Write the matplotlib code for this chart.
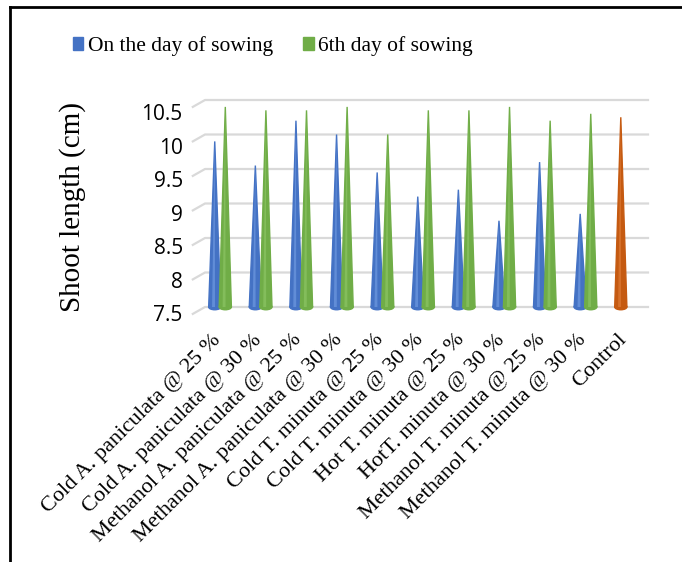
import matplotlib.pyplot as plt
import matplotlib.transforms as mtransforms
from matplotlib.patches import Polygon, Ellipse, Patch
from matplotlib.lines import Line2D
import numpy as np


# Shoot length (cm) per treatment
treatments = ["Cold A. paniculata @ 25 %", "Cold A. paniculata @ 30 %",
              "Methanol A. paniculata @ 25 %", "Methanol A. paniculata @ 30 %",
              "Cold T. minuta @ 25 %", "Cold T. minuta @ 30 %",
              "Hot T. minuta @ 25 %", "HotT. minuta @ 30 %",
              "Methanol T. minuta @ 25 %", "Methanol T. minuta @ 30 %",
              "Control"]
day0 = [9.9, 9.55, 10.2, 10.0, 9.45, 9.1, 9.2, 8.75, 9.6, 8.85]
day6 = [10.4, 10.35, 10.35, 10.4, 10.0, 10.35, 10.35, 10.4, 10.2, 10.3]
control = 10.25
yticks = [7.5, 8, 8.5, 9, 9.5, 10, 10.5]

blue = "#4472C4"
green = "#70AD47"
orange = "#C55A11"
base = 7.5
w = 0.30  # cone base width


def cone(ax, x, v, color, light):
    ax.add_patch(Ellipse((x, base), w, 0.08, color=color, clip_on=False, zorder=3))
    ax.add_patch(Polygon([(x - w/2, base), (x, v), (x + w/2, base)],
                         closed=True, color=color, clip_on=False, zorder=3))
    ax.add_patch(Polygon([(x - w*0.22, base), (x, v), (x + w*0.02, base)],
                         closed=True, color=light, alpha=0.7, lw=0,
                         clip_on=False, zorder=3))


def main():
    fig = plt.figure(figsize=(6.82, 5.62), dpi=100)
    ax = fig.add_axes([205/682, 255/562, 443/682, 207/562])
    ax.set_xlim(-0.35, 10.56)
    ax.set_ylim(7.5, 10.5)

    # gridlines with a little perspective kink on the left
    for y in yticks:
        ax.plot([-0.65, -0.35, 10.56], [y - 0.1, y, y], color="#D9D9D9",
                lw=1.6, clip_on=False, zorder=1)

    xs = np.arange(len(day0))
    for x, v in zip(xs, day0):
        cone(ax, x - 0.11, v, blue, "#6E99E0")
    for x, v in zip(xs, day6):
        cone(ax, x + 0.15, v, green, "#8CC464")
    cone(ax, len(day0) - 0.11, control, orange, "#DE7A35")

    for s in ax.spines.values():
        s.set_visible(False)
    ax.tick_params(length=0)

    ax.set_yticks(yticks)
    ax.set_yticklabels([f"{t:g}" for t in yticks], fontsize=15,
                       family="Open Sans")
    ax.tick_params(axis="y", pad=16)
    for t, lab in zip(yticks, ax.get_yticklabels()):
        dy = -(6 + (t - 7.5) / 3 * 6) / 100
        lab.set_transform(lab.get_transform() +
                          mtransforms.ScaledTranslation(0, dy, fig.dpi_scale_trans))

    ax.set_xticks(np.arange(len(treatments)))
    ax.set_xticklabels(treatments, rotation=45, ha="right", va="top",
                       rotation_mode="anchor", fontsize=16,
                       family="Liberation Serif")
    ax.tick_params(axis="x", pad=22)
    xoff = mtransforms.ScaledTranslation(-0.08, 0.07, fig.dpi_scale_trans)
    for lab in ax.get_xticklabels():
        lab.set_transform(lab.get_transform() + xoff)

    ax.set_ylabel("Shoot length (cm)", fontsize=21, family="Liberation Serif")
    ax.yaxis.set_label_coords(-0.269, 0.483)

    handles = [Patch(color=blue, label="On the day of sowing"),
               Patch(color=green, label="6th day of sowing")]
    fig.legend(handles=handles, loc="center", bbox_to_anchor=(0.3996, 0.918),
               ncol=2, frameon=False, prop={"family": "Liberation Serif", "size": 15.5},
               handlelength=0.5, handleheight=0.5, handletextpad=0.2,
               columnspacing=1.4)

    # outer frame (left and top edges)
    fig.add_artist(Line2D([10/682, 10/682], [0, 1 - 7/562], color="black", lw=2,
                          transform=fig.transFigure))
    fig.add_artist(Line2D([10/682, 1], [1 - 7/562, 1 - 7/562], color="black", lw=2,
                          transform=fig.transFigure))

    fig.savefig("out.png", dpi=100)


if __name__ == "__main__":
    main()
